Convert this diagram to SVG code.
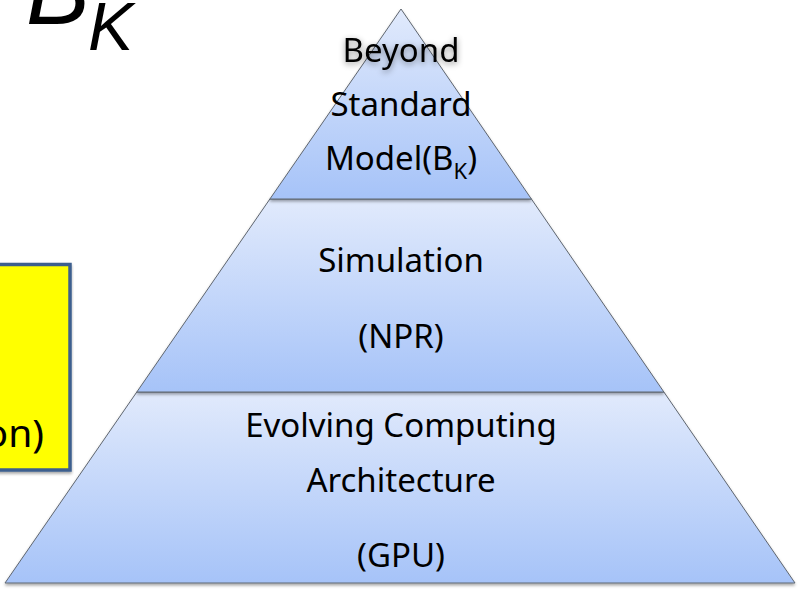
<svg xmlns="http://www.w3.org/2000/svg" width="798" height="591" viewBox="0 0 798 591">
  <defs>
    <linearGradient id="tierFill" x1="0" y1="0" x2="0" y2="1">
      <stop offset="0" stop-color="#e1eafc"/>
      <stop offset="1" stop-color="#a6c3f8"/>
    </linearGradient>
    <filter id="shapeShadow" x="-5%" y="-5%" width="110%" height="115%">
      <feDropShadow dx="0" dy="2" stdDeviation="1.5" flood-color="#000" flood-opacity="0.35"/>
    </filter>
    <filter id="textHalo" x="-20%" y="-40%" width="140%" height="180%">
      <feDropShadow dx="0" dy="2" stdDeviation="3" flood-color="#000" flood-opacity="0.45"/>
    </filter>
  </defs>
  <style>
    .tier { fill: url(#tierFill); stroke: #5f6670; stroke-width: 1; filter: url(#shapeShadow); }
    .label { font-family: "Noto Sans", "Open Sans", sans-serif; font-size: 33px; fill: #000; text-anchor: middle; }
    .sub { font-size: 22px; }
    .callout-text { font-family: "Noto Sans", "Open Sans", sans-serif; font-size: 39px; fill: #000; text-anchor: end; }
    .math { font-family: "Liberation Sans", Arial, sans-serif; font-style: italic; fill: #000; }
  </style>

  <rect width="798" height="591" fill="#ffffff"/>

  <!-- Symbol in the upper left corner -->
  <g id="bk-symbol">
    <text class="math" x="26" y="24" font-size="96">B</text>
    <text class="math" x="88" y="50" font-size="68">K</text>
  </g>

  <!-- Yellow call-out box, clipped by the left border -->
  <g id="callout">
    <rect x="-10" y="264.5" width="80" height="205.5" fill="#ffff00" stroke="#3e5f8e" stroke-width="3.5" filter="url(#shapeShadow)"/>
    <text class="callout-text" x="44" y="447">on)</text>
  </g>

  <!-- Pyramid: base tier -->
  <g id="tier-architecture">
    <polygon class="tier" points="136.8,392 663.9,392 795,583 5,583"/>
    <text class="label" x="401" y="437">Evolving Computing</text>
    <text class="label" x="401" y="492">Architecture</text>
    <text class="label" x="401" y="567">(GPU)</text>
  </g>

  <!-- Pyramid: middle tier -->
  <g id="tier-simulation">
    <polygon class="tier" points="269.9,199 531.4,199 663.9,392 136.8,392"/>
    <text class="label" x="401" y="272">Simulation</text>
    <text class="label" x="401" y="348">(NPR)</text>
  </g>

  <!-- Pyramid: top tier -->
  <g id="tier-bsm">
    <polygon class="tier" points="401,9 531.4,199 269.9,199"/>
    <text class="label" x="401" y="62" filter="url(#textHalo)">Beyond</text>
    <text class="label" x="401" y="116">Standard</text>
    <text class="label" x="401" y="170">Model(B<tspan class="sub" dy="9">K</tspan><tspan dy="-9">)</tspan></text>
  </g>
</svg>
